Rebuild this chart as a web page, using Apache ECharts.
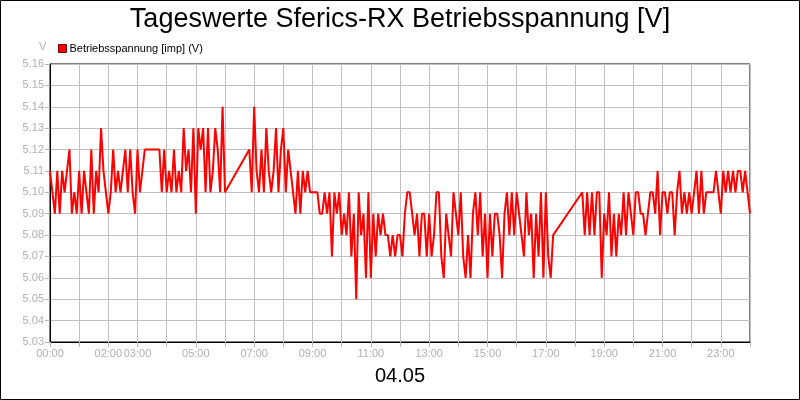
<!DOCTYPE html>
<html>
<head>
<meta charset="utf-8">
<title>Tageswerte Sferics-RX Betriebsspannung</title>
<script src="https://cdn.jsdelivr.net/npm/echarts@6/dist/echarts.min.js"></script>
<style>
html,body{margin:0;padding:0;background:#fff;}
#main{width:800px;height:400px;}
</style>
</head>
<body>
<div id="main"></div>
<script>
// Messwerte, alle 5 Minuten, in Abschnitten (Luecken dazwischen)
var seg1Start = "00:00";
var seg1Values = [
	5.11, 5.10, 5.09, 5.11, 5.09, 5.11, 5.10, 5.11, 5.12, 5.09, 5.10, 5.09,
	5.11, 5.09, 5.11, 5.10, 5.09, 5.12, 5.09, 5.11, 5.10, 5.13, 5.11, 5.10,
	5.09, 5.10, 5.12, 5.10, 5.11, 5.10, 5.11, 5.12, 5.10, 5.12, 5.10, 5.09,
	5.12, 5.10, 5.11, 5.12, 5.12, 5.12, 5.12, 5.12, 5.12, 5.12, 5.10, 5.12,
	5.10, 5.11, 5.10, 5.12, 5.10, 5.11, 5.10, 5.13, 5.11, 5.12, 5.10, 5.13,
	5.09, 5.13, 5.12, 5.13, 5.10, 5.13, 5.10, 5.11, 5.13, 5.12, 5.10, 5.14,
	5.10
];
var seg2Start = "06:50";
var seg2Values = [
	5.12, 5.10,
	5.14, 5.11, 5.10, 5.12, 5.10, 5.13, 5.11, 5.10, 5.11, 5.13, 5.10, 5.12,
	5.13, 5.10, 5.12, 5.11, 5.10, 5.09, 5.11, 5.09, 5.11, 5.10, 5.11, 5.10,
	5.10, 5.10, 5.10, 5.09, 5.09, 5.10, 5.09, 5.10, 5.07, 5.10, 5.09, 5.10,
	5.08, 5.09, 5.08, 5.10, 5.07, 5.09, 5.05, 5.10, 5.08, 5.09, 5.06, 5.10,
	5.06, 5.09, 5.07, 5.09, 5.08, 5.09, 5.08, 5.08, 5.07, 5.08, 5.07, 5.08,
	5.08, 5.07, 5.09, 5.10, 5.10, 5.09, 5.08, 5.09, 5.07, 5.09, 5.09, 5.07,
	5.09, 5.07, 5.08, 5.10, 5.10, 5.07, 5.06, 5.09, 5.08, 5.07, 5.10, 5.09,
	5.08, 5.10, 5.07, 5.06, 5.08, 5.06, 5.09, 5.10, 5.08, 5.10, 5.07, 5.09,
	5.06, 5.09, 5.07, 5.09, 5.09, 5.08, 5.06, 5.09, 5.10, 5.08, 5.10, 5.08,
	5.10, 5.09, 5.08, 5.07, 5.10, 5.08, 5.09, 5.06, 5.09, 5.07, 5.10, 5.06,
	5.10, 5.07, 5.06, 5.08
];
var seg3Start = "18:15";
var seg3Values = [
	5.10, 5.08, 5.10, 5.08, 5.10, 5.08, 5.10, 5.10, 5.06,
	5.09, 5.08, 5.10, 5.07, 5.09, 5.07, 5.09, 5.08, 5.10, 5.08, 5.10, 5.09,
	5.08, 5.10, 5.10, 5.09, 5.09, 5.08, 5.09, 5.10, 5.10, 5.09, 5.11, 5.08,
	5.10, 5.10, 5.09, 5.10, 5.10, 5.08, 5.10, 5.11, 5.09, 5.10, 5.09, 5.10,
	5.09, 5.10, 5.11, 5.09, 5.11, 5.09, 5.10, 5.10, 5.10, 5.10, 5.11, 5.10,
	5.09, 5.11, 5.10, 5.11, 5.10, 5.11, 5.10, 5.11, 5.11, 5.10, 5.11, 5.10,
	5.09
];
var stepMinutes = 5;

var xTickLabels = ["00:00","02:00","03:00","05:00","07:00","09:00","11:00","13:00","15:00","17:00","19:00","21:00","23:00"];
var yTickLabels = ["5.03","5.04","5.05","5.06","5.07","5.08","5.09","5.10","5.11","5.12","5.13","5.14","5.15","5.16"];

var titleText = "Tageswerte Sferics-RX Betriebsspannung [V]";
var seriesName = "Betriebsspannung [imp] (V)";
var dateText = "04.05";

function toHours(s){
	var p = s.split(":");
	return parseInt(p[0],10) + parseInt(p[1],10)/60;
}

function buildData(){
	var out = [];
	var segs = [[seg1Start,seg1Values],[seg2Start,seg2Values],[seg3Start,seg3Values]];
	for(var k=0;k<segs.length;k++){
		var t0 = toHours(segs[k][0]);
		var vals = segs[k][1];
		for(var i=0;i<vals.length;i++){
			out.push([t0 + i*stepMinutes/60, vals[i]]);
		}
	}
	return out;
}

var xLabelHours = {};
for(var i=0;i<xTickLabels.length;i++){
	xLabelHours[Math.round(toHours(xTickLabels[i]))] = xTickLabels[i];
}

var myChart = echarts.init(document.getElementById('main'));
var font = "Liberation Sans, Arial, sans-serif";
var option = {
	animation: false,
	backgroundColor: '#fff',
	title: {
		text: titleText,
		left: 'center',
		top: 1,
		textStyle: {fontSize: 27, fontWeight: 'normal', color: '#000', fontFamily: font}
	},
	legend: {
		left: 53,
		top: 38,
		itemWidth: 8,
		itemHeight: 8,
		icon: 'rect',
		itemGap: 4,
		textStyle: {fontSize: 11, color: '#000', fontFamily: font, padding: [0,0,0,-2]},
		data: [{name: seriesName, itemStyle: {color: '#ff0000', borderColor: '#600', borderWidth: 1}}]
	},
	grid: {
		left: 50, right: 50, top: 64, bottom: 58,
		show: true,
		borderColor: '#000',
		borderWidth: 1
	},
	xAxis: {
		type: 'value',
		min: 0,
		max: 24,
		interval: 1,
		axisLine: {show: true, lineStyle: {color: '#000'}},
		axisTick: {show: true, length: 5, lineStyle: {color: '#b8b8b8'}},
		splitLine: {show: true, lineStyle: {color: '#c0c0c0'}},
		axisLabel: {
			color: '#b0b0b0', fontSize: 11, fontFamily: font, margin: 6,
			showMaxLabel: true,
			formatter: function(v){
				return xLabelHours[Math.round(v)] || '';
			}
		}
	},
	yAxis: {
		type: 'value',
		min: 5.03,
		max: 5.16,
		interval: 0.01,
		axisLine: {show: true, lineStyle: {color: '#000'}},
		axisTick: {show: true, length: 5, lineStyle: {color: '#b8b8b8'}},
		splitLine: {show: true, lineStyle: {color: '#c0c0c0'}},
		axisLabel: {
			color: '#b0b0b0', fontSize: 11, fontFamily: font, margin: 6,
			formatter: function(v){
				var idx = Math.round((v - 5.03)*100);
				return yTickLabels[idx] || '';
			}
		}
	},
	series: [{
		name: seriesName,
		type: 'line',
		symbol: 'none',
		color: '#ff0000',
		lineStyle: {color: '#ff0000', width: 2},
		data: buildData()
	}],
	graphic: [
		{type: 'rect', shape: {x: 0.5, y: 0.5, width: 799, height: 399}, style: {fill: 'none', stroke: '#000', lineWidth: 1}, silent: true},
		{type: 'text', left: 39, top: 41, style: {text: 'V', fill: '#b0b0b0', font: '11px ' + font}},
		{type: 'text', left: 'center', top: 366, style: {text: dateText, fill: '#000', font: '20px ' + font}}
	]
};
myChart.setOption(option);
</script>
</body>
</html>
